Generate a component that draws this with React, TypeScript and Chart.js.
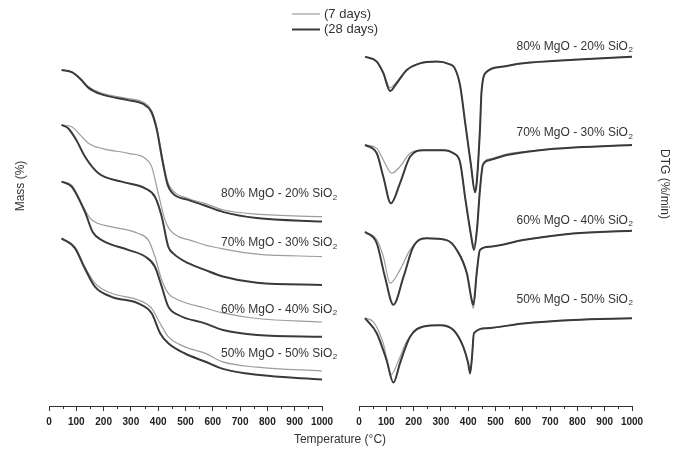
import React, { useEffect, useRef } from "react";
import { Chart, registerables } from "chart.js";

Chart.register(...registerables);

// ---------- DATA ----------
// Sample names (last "2" is drawn as a subscript)
const samples = ["80% MgO - 20% SiO2", "70% MgO - 30% SiO2", "60% MgO - 40% SiO2", "50% MgO - 50% SiO2"];
const seriesNames = ["(7 days)", "(28 days)"];
const xTicks = [0, 100, 200, 300, 400, 500, 600, 700, 800, 900, 1000];

// TG curves (offset mass, arbitrary stacked units): [temperature °C, value]
const tg80_7: number[][] = [[46, 96.0], [85, 95.4], [115, 93.6], [145, 91.2], [190, 89.5], [290, 87.8], [345, 86.8], [375, 84.6], [395, 79.6], [415, 71.2], [435, 64.0], [455, 61.4], [510, 59.3], [570, 57.9], [640, 56.0], [760, 54.8], [1000, 54.1]];
const tg80_28: number[][] = [[46, 96.0], [85, 95.3], [115, 93.4], [145, 90.9], [190, 89.1], [290, 87.4], [345, 86.3], [375, 84.0], [395, 78.9], [415, 70.3], [435, 63.1], [455, 60.6], [510, 58.9], [570, 57.3], [640, 55.4], [760, 53.7], [1000, 52.7]];
const tg70_7: number[][] = [[46, 80.3], [83, 79.8], [115, 77.4], [144, 75.1], [193, 73.6], [290, 72.2], [352, 70.8], [376, 68.4], [400, 60.8], [425, 53.1], [443, 50.3], [474, 48.4], [516, 47.4], [571, 46.0], [637, 44.9], [762, 43.4], [1000, 42.7]];
const tg70_28: number[][] = [[46, 80.3], [71, 79.3], [100, 76.0], [132, 71.2], [181, 66.5], [266, 64.1], [352, 62.2], [388, 59.8], [413, 54.1], [437, 45.5], [455, 43.6], [510, 40.8], [571, 38.9], [637, 37.0], [762, 35.2], [1000, 34.6]];
const tg60_7: number[][] = [[46, 64.1], [83, 63.1], [132, 56.0], [150, 53.7], [175, 52.3], [229, 51.2], [327, 49.3], [364, 47.4], [388, 42.7], [413, 36.0], [437, 32.2], [474, 30.3], [571, 28.0], [637, 26.6], [762, 25.0], [1000, 24.0]];
const tg60_28: number[][] = [[46, 64.1], [83, 62.7], [132, 55.4], [160, 49.7], [193, 47.4], [290, 44.6], [352, 42.7], [388, 39.8], [413, 34.1], [437, 28.4], [474, 26.0], [571, 23.6], [637, 21.7], [762, 20.3], [1000, 19.8]];
const tg50_7: number[][] = [[46, 47.9], [95, 45.5], [130, 40.0], [168, 35.1], [229, 32.2], [327, 30.3], [376, 27.9], [407, 23.6], [437, 19.8], [498, 16.9], [571, 15.1], [637, 12.6], [762, 11.1], [1000, 10.0]];
const tg50_28: number[][] = [[46, 47.9], [95, 45.1], [130, 39.5], [168, 34.1], [229, 31.2], [327, 29.3], [376, 26.5], [407, 20.8], [437, 17.9], [498, 15.0], [571, 12.7], [637, 10.6], [762, 8.9], [1000, 7.6]];

// DTG curves (offset %/min, arbitrary stacked units)
const dtg80_7: number[][] = [[22, 99.8], [65, 98.4], [89, 95.4], [114, 90.9], [138, 92.6], [175, 96.0], [223, 97.9], [285, 98.4], [330, 97.7], [350, 96.6], [370, 91.7], [390, 80.3], [410, 68.9], [425, 61.4], [431, 63.9], [443, 78.9], [449, 90.0], [468, 95.5], [520, 96.9], [602, 97.9], [785, 98.9], [1000, 99.8]];
const dtg80_28: number[][] = [[22, 99.8], [65, 98.4], [89, 95.1], [114, 90.0], [138, 92.2], [175, 96.0], [223, 97.9], [285, 98.4], [330, 97.7], [350, 96.6], [370, 91.7], [390, 80.3], [410, 68.9], [425, 61.1], [431, 63.7], [443, 78.9], [449, 90.0], [468, 95.5], [520, 96.9], [602, 97.9], [785, 98.9], [1000, 99.8]];
const dtg70_7: number[][] = [[22, 74.6], [65, 73.6], [89, 70.3], [120, 66.5], [150, 68.4], [187, 72.2], [236, 73.1], [309, 73.1], [346, 72.2], [370, 69.7], [390, 58.9], [410, 49.2], [421, 45.7], [432, 50.8], [443, 61.9], [454, 69.2], [480, 70.6], [541, 72.0], [663, 73.1], [800, 73.9], [1000, 74.6]];
const dtg70_28: number[][] = [[22, 74.6], [65, 72.2], [89, 65.5], [117, 57.9], [150, 63.6], [187, 71.2], [236, 73.1], [309, 73.1], [346, 72.2], [370, 69.7], [390, 58.9], [410, 48.9], [421, 44.6], [432, 50.3], [443, 61.7], [454, 68.9], [480, 70.3], [541, 71.7], [663, 73.1], [800, 73.9], [1000, 74.6]];
const dtg60_7: number[][] = [[22, 49.8], [65, 47.5], [89, 42.7], [114, 35.1], [150, 38.9], [187, 44.6], [223, 47.4], [248, 47.9], [321, 47.4], [358, 44.6], [395, 37.9], [413, 29.8], [419, 27.9], [431, 37.4], [443, 44.6], [480, 45.5], [601, 47.4], [784, 49.3], [1000, 50.1]];
const dtg60_28: number[][] = [[22, 49.8], [65, 46.5], [95, 36.9], [126, 28.9], [163, 36.9], [199, 45.5], [248, 47.9], [321, 47.4], [358, 44.6], [395, 37.9], [413, 30.3], [419, 28.9], [431, 37.9], [443, 44.6], [480, 45.5], [601, 47.4], [784, 49.3], [1000, 50.1]];
const dtg50_7: number[][] = [[22, 25.1], [52, 24.1], [89, 17.9], [118, 9.0], [145, 13.0], [175, 18.5], [236, 22.7], [297, 23.1], [346, 21.7], [382, 16.9], [400, 12.2], [407, 9.6], [414, 14.1], [421, 20.8], [467, 22.2], [602, 23.6], [785, 24.6], [1000, 25.1]];
const dtg50_28: number[][] = [[22, 25.1], [65, 20.8], [101, 13.1], [126, 6.7], [150, 12.2], [187, 19.8], [236, 22.7], [297, 23.1], [346, 21.7], [382, 16.9], [400, 12.2], [407, 9.3], [414, 14.1], [421, 20.8], [467, 22.2], [602, 23.6], [785, 24.6], [1000, 25.1]];

// Label anchors (data units)
const tgLabelT = 630;
const tgLabelV = [60.9, 46.9, 28.0, 15.4];
const dtgLabelT = 577;
const dtgLabelV = [103.1, 78.4, 53.3, 30.8];

// ---------- STYLE ----------
const FONT = '"Liberation Sans", Arial, Helvetica, sans-serif';
const GRAY = "#9c9c9c";
const DARK = "#3a3a3a";
const TEXT = "#333333";

function ds(points: number[][], dark: boolean) {
  return {
    data: points.map(([x, y]) => ({ x, y })),
    borderColor: dark ? DARK : GRAY,
    borderWidth: dark ? 2 : 1.2,
    pointRadius: 0,
    fill: false,
    cubicInterpolationMode: "monotone" as const,
    order: dark ? 0 : 1,
    clip: false as any,
  };
}

function drawSubLabel(ctx: CanvasRenderingContext2D, text: string, x: number, cy: number) {
  const main = text.slice(0, -1);
  const sub = text.slice(-1);
  ctx.save();
  ctx.fillStyle = TEXT;
  ctx.textAlign = "left";
  ctx.textBaseline = "alphabetic";
  ctx.font = `12px ${FONT}`;
  const yb = cy + 4.5;
  ctx.fillText(main, x, yb);
  const w = ctx.measureText(main).width;
  ctx.font = `8px ${FONT}`;
  ctx.fillText(sub, x + w + 0.5, yb + 2.5);
  ctx.restore();
}

const minorTicks = {
  id: "minorTicks",
  afterDraw(chart: any) {
    const { ctx, chartArea, scales } = chart;
    ctx.save();
    ctx.strokeStyle = "#333";
    ctx.lineWidth = 1;
    for (let i = 0; i < xTicks.length - 1; i++) {
      const t = (xTicks[i] + xTicks[i + 1]) / 2;
      const px = Math.round(scales.x.getPixelForValue(t)) + 0.5;
      ctx.beginPath();
      ctx.moveTo(px, chartArea.bottom);
      ctx.lineTo(px, chartArea.bottom + 3);
      ctx.stroke();
    }
    ctx.restore();
  },
};

function labelPlugin(labelT: number, labelV: number[]) {
  return {
    id: "sampleLabels",
    afterDraw(chart: any) {
      const { ctx, scales } = chart;
      samples.forEach((s, i) => {
        drawSubLabel(ctx, s, scales.x.getPixelForValue(labelT), scales.y.getPixelForValue(labelV[i]));
      });
    },
  };
}

const globalTexts = {
  id: "globalTexts",
  afterDraw(chart: any) {
    const ctx: CanvasRenderingContext2D = chart.ctx;
    ctx.save();
    // legend
    ctx.strokeStyle = GRAY;
    ctx.lineWidth = 1.2;
    ctx.beginPath();
    ctx.moveTo(292, 14);
    ctx.lineTo(320, 14);
    ctx.stroke();
    ctx.strokeStyle = DARK;
    ctx.lineWidth = 2;
    ctx.beginPath();
    ctx.moveTo(292, 29.5);
    ctx.lineTo(320, 29.5);
    ctx.stroke();
    ctx.fillStyle = TEXT;
    ctx.font = `13px ${FONT}`;
    ctx.textAlign = "left";
    ctx.textBaseline = "middle";
    ctx.fillText(seriesNames[0], 324, 14);
    ctx.fillText(seriesNames[1], 324, 29.5);
    // x title
    ctx.font = `12px ${FONT}`;
    ctx.textAlign = "center";
    ctx.fillText("Temperature (°C)", 340, 440);
    // y titles
    ctx.save();
    ctx.translate(21, 186);
    ctx.rotate(-Math.PI / 2);
    ctx.fillText("Mass (%)", 0, 0);
    ctx.restore();
    ctx.save();
    ctx.translate(664, 184);
    ctx.rotate(Math.PI / 2);
    ctx.fillText("DTG (%/min)", 0, 0);
    ctx.restore();
    ctx.restore();
  },
};

function makeOptions(padLeft: number, padRight: number) {
  return {
    animation: false as const,
    responsive: false,
    devicePixelRatio: 1,
    layout: { padding: { left: padLeft, right: padRight, top: 42, bottom: 0 } },
    plugins: { legend: { display: false }, tooltip: { enabled: false } },
    scales: {
      x: {
        type: "linear" as const,
        min: 0,
        max: 1000,
        afterBuildTicks: (scale: any) => {
          scale.ticks = xTicks.map((v) => ({ value: v }));
        },
        ticks: {
          font: { size: 10, weight: "bold" as const, family: FONT },
          color: "#222",
          padding: 5,
          maxRotation: 0,
          autoSkip: false,
          callback: (v: any) => String(v),
        },
        grid: { display: true, drawOnChartArea: false, drawTicks: true, tickLength: 5, color: "#333", lineWidth: 1 },
        border: { display: true, color: "#333", width: 1 },
        afterFit: (scale: any) => {
          scale.height = 44;
        },
      },
      y: { display: false, min: 0, max: 104 },
    },
  };
}

export default function App() {
  const leftRef = useRef<HTMLCanvasElement>(null);
  const rightRef = useRef<HTMLCanvasElement>(null);

  useEffect(() => {
    const left = new Chart(leftRef.current as HTMLCanvasElement, {
      type: "line",
      data: {
        datasets: [
          ds(tg80_28, true), ds(tg70_28, true), ds(tg60_28, true), ds(tg50_28, true),
          ds(tg80_7, false), ds(tg70_7, false), ds(tg60_7, false), ds(tg50_7, false),
        ] as any,
      },
      options: makeOptions(49, 353) as any,
      plugins: [minorTicks, labelPlugin(tgLabelT, tgLabelV), globalTexts],
    });
    const right = new Chart(rightRef.current as HTMLCanvasElement, {
      type: "line",
      data: {
        datasets: [
          ds(dtg80_28, true), ds(dtg70_28, true), ds(dtg60_28, true), ds(dtg50_28, true),
          ds(dtg80_7, false), ds(dtg70_7, false), ds(dtg60_7, false), ds(dtg50_7, false),
        ] as any,
      },
      options: makeOptions(359, 43) as any,
      plugins: [minorTicks, labelPlugin(dtgLabelT, dtgLabelV)],
    });
    return () => {
      left.destroy();
      right.destroy();
    };
  }, []);

  return (
    <div style={{ position: "absolute", left: 0, top: 0, width: 675, height: 450, background: "#fff" }}>
      <canvas ref={leftRef} width={675} height={450} style={{ position: "absolute", left: 0, top: 0, width: 675, height: 450 }} />
      <canvas ref={rightRef} width={675} height={450} style={{ position: "absolute", left: 0, top: 0, width: 675, height: 450 }} />
    </div>
  );
}
